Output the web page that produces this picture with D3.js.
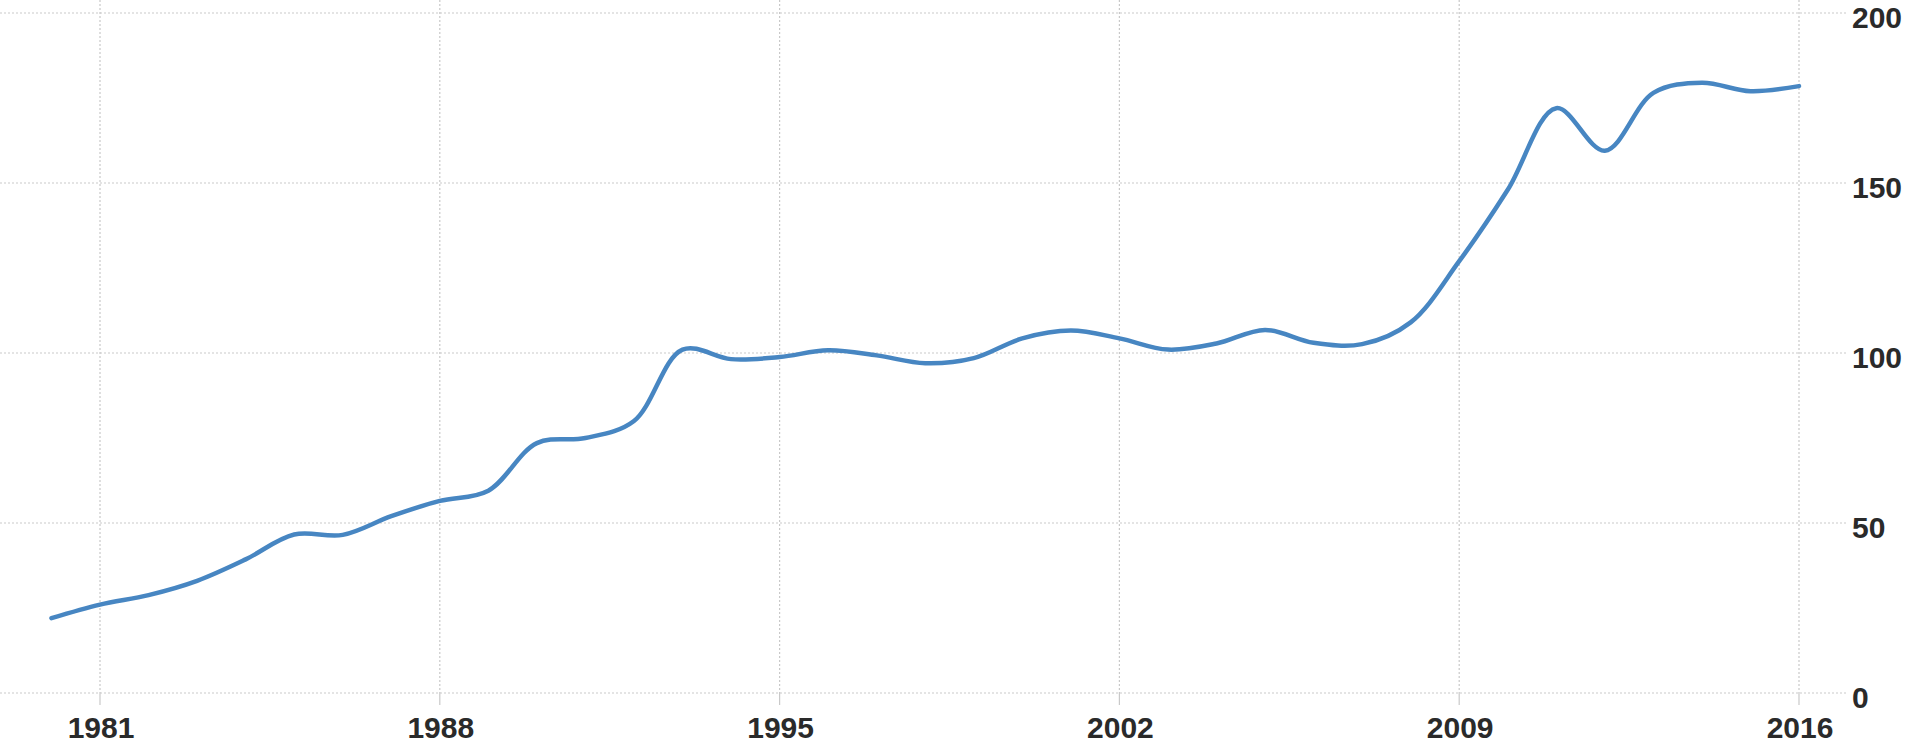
<!DOCTYPE html>
<html>
<head>
<meta charset="utf-8">
<script src="https://cdnjs.cloudflare.com/ajax/libs/d3/7.8.5/d3.min.js"></script>
<style>
	body { margin: 0; background: #fff; }
	.grid line { stroke: #c9c9c9; stroke-width: 1.2; stroke-dasharray: 2,2; }
	.tick-mark { stroke: #c9c9c9; stroke-width: 1.2; }
	.lbl { font-family: "Liberation Sans", Arial, sans-serif; font-weight: bold; font-size: 30px; fill: #2a2a2a; }
</style>
</head>
<body>
<script>
// annual values
var years = [1980, 1981, 1982, 1983, 1984, 1985, 1986, 1987, 1988, 1989,
	1990, 1991, 1992, 1993, 1994, 1995, 1996, 1997, 1998, 1999,
	2000, 2001, 2002, 2003, 2004, 2005, 2006, 2007, 2008, 2009,
	2010, 2011, 2012, 2013, 2014, 2015, 2016];

var values = [22, 26, 28.8, 33, 39.3, 46.6, 46.5, 52, 56.5, 59.5,
	73.5, 75, 80, 101, 98.2, 98.8, 100.8, 99.3, 97, 98.5,
	104.3, 106.6, 104.3, 101, 102.8, 106.8, 103, 102.6, 109, 127,
	148, 172, 159.5, 176.5, 179.5, 177, 178.5];

var xTicks = [1981, 1988, 1995, 2002, 2009, 2016];
var yTicks = [0, 50, 100, 150, 200];

var width = 1906, height = 746;

var x = d3.scaleLinear()
	.domain([1981, 2016])
	.range([100, 1799]);

var y = d3.scaleLinear()
	.domain([0, 200])
	.range([693, 13]);

var svg = d3.select("body").append("svg")
	.attr("width", width)
	.attr("height", height);

var data = years.map(function(yr, i) { return {year: yr, value: values[i]}; });

// dotted grid
var grid = svg.append("g").attr("class", "grid");

grid.selectAll(".hline")
	.data(yTicks).enter()
	.append("line")
	.attr("class", "hline")
	.attr("x1", 0)
	.attr("x2", 1847)
	.attr("y1", function(d) { return y(d); })
	.attr("y2", function(d) { return y(d); });

grid.selectAll(".vline")
	.data(xTicks).enter()
	.append("line")
	.attr("class", "vline")
	.attr("x1", function(d) { return x(d); })
	.attr("x2", function(d) { return x(d); })
	.attr("y1", 0)
	.attr("y2", y(0));

// short ticks below the zero line
svg.selectAll(".tick-mark")
	.data(xTicks).enter()
	.append("line")
	.attr("class", "tick-mark")
	.attr("x1", function(d) { return x(d); })
	.attr("x2", function(d) { return x(d); })
	.attr("y1", y(0))
	.attr("y2", y(0) + 12);

var line = d3.line()
	.x(function(d) { return x(d.year); })
	.y(function(d) { return y(d.value); })
	.curve(d3.curveCatmullRom.alpha(0.5));

svg.append("path")
	.datum(data)
	.attr("d", line)
	.attr("fill", "none")
	.attr("stroke", "#4786c2")
	.attr("stroke-width", 4.5)
	.attr("stroke-linejoin", "round")
	.attr("stroke-linecap", "round");

// axis labels
svg.selectAll(".xlbl")
	.data(xTicks).enter()
	.append("text")
	.attr("class", "lbl")
	.attr("x", function(d) { return x(d) + 1; })
	.attr("y", 738)
	.attr("text-anchor", "middle")
	.text(function(d) { return d; });

svg.selectAll(".ylbl")
	.data(yTicks).enter()
	.append("text")
	.attr("class", "lbl")
	.attr("x", 1852)
	.attr("y", function(d) { return y(d) + 15; })
	.text(function(d) { return d; });
</script>
</body>
</html>
